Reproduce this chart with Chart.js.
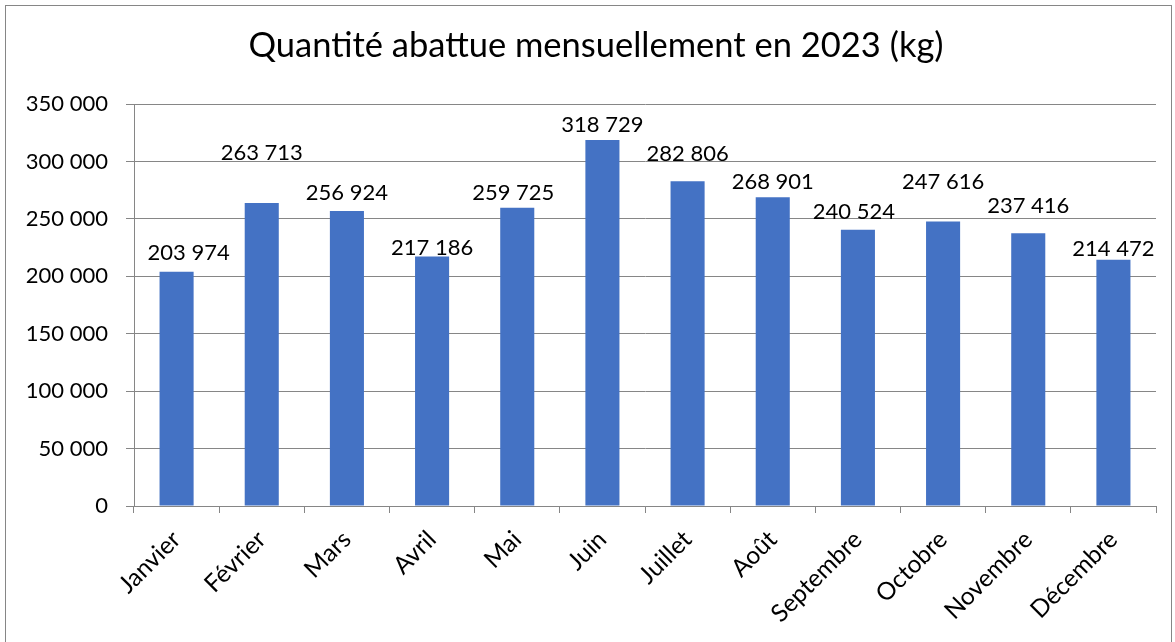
<!DOCTYPE html>
<html>
<head>
<meta charset="utf-8">
<script src="https://cdn.jsdelivr.net/npm/chart.js@4/dist/chart.umd.min.js"></script>
<style>
  html, body { margin: 0; padding: 0; background: #fff; }
  #cadre {
    position: absolute; left: 5px; top: 5px;
    width: 1165px; height: 640px;
    border: 1px solid #868686;
  }
</style>
</head>
<body>
<div id="cadre"><canvas id="graphique" width="1165" height="640"></canvas></div>
<script>
// Données
const titre = 'Quantité abattue mensuellement en 2023 (kg)';
const mois = ['Janvier', 'Février', 'Mars', 'Avril', 'Mai', 'Juin', 'Juillet', 'Août', 'Septembre', 'Octobre', 'Novembre', 'Décembre'];
const quantites = [203974, 263713, 256924, 217186, 259725, 318729, 282806, 268901, 240524, 247616, 237416, 214472];
const graduations = [0, 50000, 100000, 150000, 200000, 250000, 300000, 350000];

// Décalage des étiquettes comme dans le document d'origine (dx, dy en px)
const decalages = [[12, -19], [0, -50], [0, -18], [0, -9], [-4, -15], [0, -15], [0, -27], [0, -15], [-4, -18], [0, -40], [0, -27], [0, -11]];

const police = 'Lato, "Open Sans", sans-serif';
const gris = '#868686';

function formatNombre(v) {
    return String(v).replace(/\B(?=(\d{3})+(?!\d))/g, ' ');
}

// Titre centré comme dans l'original (légèrement à droite du centre)
const titrePlugin = {
    id: 'titre',
    afterDraw(chart) {
        const ctx = chart.ctx;
        ctx.save();
        ctx.font = '34.5px ' + police;
        ctx.fillStyle = '#000';
        ctx.textAlign = 'center';
        ctx.textBaseline = 'middle';
        ctx.fillText(titre, 590, 40);
        ctx.restore();
    }
};

// Affiche la valeur au-dessus de chaque barre
const etiquettes = {
    id: 'etiquettes',
    afterDatasetsDraw(chart) {
        const ctx = chart.ctx;
        const meta = chart.getDatasetMeta(0);
        ctx.save();
        ctx.font = '22px ' + police;
        ctx.fillStyle = '#000';
        ctx.textAlign = 'center';
        ctx.textBaseline = 'middle';
        meta.data.forEach((barre, i) => {
            const d = decalages[i];
            ctx.fillText(formatNombre(quantites[i]), barre.x + d[0], barre.y + d[1]);
        });
        ctx.restore();
    }
};

document.addEventListener('DOMContentLoaded', () => {
    const ctx = document.getElementById('graphique').getContext('2d');
    new Chart(ctx, {
        type: 'bar',
        data: {
            labels: mois,
            datasets: [{
                label: 'Quantité abattue',
                data: quantites,
                backgroundColor: '#4472C4',
                barPercentage: 1,
                categoryPercentage: 0.4
            }]
        },
        options: {
            responsive: false,
            animation: false,
            layout: { padding: { left: 0, right: 15, top: 98, bottom: 0 } },
            plugins: {
                legend: { display: false },
                tooltip: { enabled: false },
                title: { display: false }
            },
            scales: {
                x: {
                    grid: { offset: true, drawOnChartArea: false, drawTicks: true, tickLength: 7, color: gris },
                    border: { color: gris },
                    ticks: {
                        color: '#000',
                        font: { family: police, size: 24.5 },
                        minRotation: 45,
                        maxRotation: 45,
                        padding: 12
                    },
                    afterFit(scale) { scale.height = 140; }
                },
                y: {
                    min: 0,
                    max: 350000,
                    afterBuildTicks(scale) { scale.ticks = graduations.map(v => ({ value: v })); },
                    grid: { color: gris, tickLength: 8 },
                    border: { color: gris },
                    ticks: {
                        color: '#000',
                        font: { family: police, size: 22 },
                        padding: 18,
                        callback: v => formatNombre(v)
                    },
                    afterFit(scale) { scale.width = 128; }
                }
            }
        },
        plugins: [etiquettes, titrePlugin]
    });
});
</script>
</body>
</html>
